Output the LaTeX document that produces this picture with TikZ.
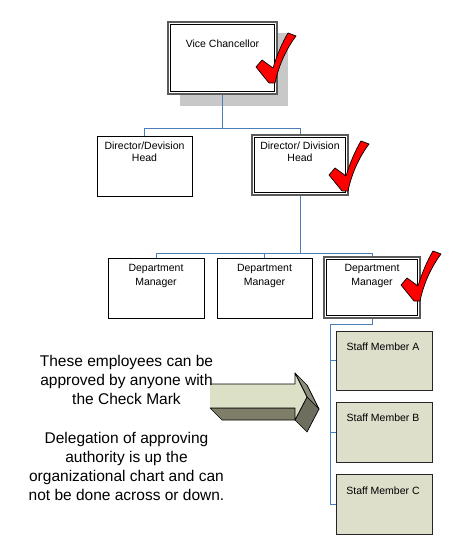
\documentclass[tikz,border=0pt]{standalone}
\usepackage{fontspec}
\setmainfont{Liberation Sans}
\usetikzlibrary{calc}
\definecolor{conncol}{HTML}{4A7EBB}
\definecolor{shadowcol}{HTML}{C8C8C8}
\definecolor{staffcol}{HTML}{DDDFCB}
\definecolor{arrfront}{HTML}{DCE0C6}
\definecolor{arrdark}{HTML}{7F7F69}
\definecolor{arrmid}{HTML}{8C8C78}
\definecolor{arrdeep}{HTML}{6E6E5E}
\definecolor{outercol}{HTML}{5A5A5A}
\tikzset{
  box/.style={draw=black, line width=0.9pt, fill=white, minimum width=96pt, minimum height=60pt, inner sep=0pt},
  dblbox/.style={draw=outercol, line width=1.8pt, fill=white, inner sep=0pt},
  staffbox/.style={draw=black!85, line width=0.9pt, fill=staffcol, minimum width=96pt, minimum height=60pt, inner sep=0pt},
  lbl/.style={font=\fontsize{10.5}{12}\selectfont, anchor=base, inner sep=0pt},
  bigtxt/.style={font=\fontsize{15.5}{19}\selectfont, anchor=base, inner sep=0pt},
  conn/.style={draw=conncol, line width=0.9pt},
  chk/.pic={
    \filldraw[fill=red, draw=black, line width=0.7pt, line join=round]
      (-1,1) -- (-14,-15) -- (-8,-22) -- (3,-14)
      .. controls (7,-27) and (12,-39) .. (18,-49) -- (26,-46)
      .. controls (17,-34) and (9,-18) .. (5,1) -- cycle;
  }
}
\begin{document}
\begin{tikzpicture}[x=1pt, y=-1pt]
\useasboundingbox (0,0) rectangle (458,545);
\fill[white] (0,0) rectangle (458,545);

% Vice Chancellor with shadow
\fill[shadowcol] (180,33) rectangle (288,106);
\node[dblbox, minimum width=109pt, minimum height=72pt] (vc) at (222.5,58) {};
\draw[black, line width=0.9pt] ($(vc.north west)+(3,3)$) rectangle ($(vc.south east)+(-3,-3)$);
\node[lbl] (vct) at (222.5,48) {Vice Chancellor};

% Directors
\node[box, minimum width=95pt] (d1) at (144.5,166) {};
\node[lbl] (d1a) at (144.5,149.5) {Director/Devision};
\node[lbl] (d1b) at (144.5,161.5) {Head};
\node[dblbox, minimum width=96pt, minimum height=60pt] (d2) at (300,165) {};
\draw[black, line width=0.9pt] ($(d2.north west)+(3,3)$) rectangle ($(d2.south east)+(-3,-3)$);
\node[lbl] (d2a) at (300,149.5) {Director/ Division};
\node[lbl] (d2b) at (300,161.5) {Head};

% Department managers
\node[box] (m1) at (156,288) {};
\node[lbl] (m1a) at (156,271.5) {Department};
\node[lbl] (m1b) at (156,285.5) {Manager};
\node[box, minimum width=95pt] (m2) at (264.5,288) {};
\node[lbl] (m2a) at (264.5,271.5) {Department};
\node[lbl] (m2b) at (264.5,285.5) {Manager};
\node[dblbox, minimum width=96pt, minimum height=61pt] (m3) at (372,287.5) {};
\draw[black, line width=0.9pt] ($(m3.north west)+(3,3)$) rectangle ($(m3.south east)+(-3,-3)$);
\node[lbl] (m3a) at (372,271.5) {Department};
\node[lbl] (m3b) at (372,285.5) {Manager};

% Staff members
\node[staffbox, minimum height=59pt] (sa) at (384,360.5) {};
\node[lbl] (sat) at (383,350) {Staff Member A};
\node[staffbox] (sb) at (384,432) {};
\node[lbl] (sbt) at (383,421.5) {Staff Member B};
\node[staffbox] (sc) at (384,504) {};
\node[lbl] (sct) at (383,494) {Staff Member C};

% Connectors
\coordinate (j1) at (222.5,128);
\coordinate (j2) at (300,253);
\coordinate (s0) at (330,324);
\draw[conn] (vc.south) -- (j1);
\draw[conn] (j1) -| (d1.north);
\draw[conn] (j1) -| (d2.north);
\draw[conn] (d2.south) -- (j2);
\draw[conn] (j2) -| (m1.north);
\draw[conn] (j2) -| (m2.north);
\draw[conn] (j2) -| (m3.north);
\draw[conn] (m3.south) |- (s0);
\draw[conn] (s0) |- (sa.west);
\draw[conn] (s0) |- (sb.west);
\draw[conn] (s0) |- (sc.west);

% Check marks
\pic at (270,82) {chk};
\pic at (343,190) {chk};
\pic at (415,300) {chk};

% 3D block arrow
\filldraw[fill=arrdark, draw=black, line width=0.7pt, line join=round]
  (210,408) -- (295,408) -- (307,420) -- (222,420) -- cycle;
\filldraw[fill=arrmid, draw=black, line width=0.7pt, line join=round]
  (295,373) -- (307,385) -- (319,409) -- (307,397) -- cycle;
\filldraw[fill=arrdeep, draw=black, line width=0.7pt, line join=round]
  (307,397) -- (319,409) -- (307,432) -- (295,420) -- cycle;
\fill[arrfront] (210,384) -- (295,384) -- (295,373) -- (307,397) -- (295,420) -- (295,408) -- (210,408) -- cycle;
\draw[black, line width=0.7pt, line join=round]
  (210,384) -- (295,384) -- (295,373) -- (307,397) -- (295,420) -- (295,408) -- (210,408);

% Explanatory text
\node[bigtxt] (t1) at (126.5,366) {These employees can be};
\node[bigtxt] (t2) at (126.5,385) {approved by anyone with};
\node[bigtxt] (t3) at (126.5,404) {the Check Mark};
\node[bigtxt] (t4) at (126.5,443) {Delegation of approving};
\node[bigtxt] (t5) at (126.5,462) {authority is up the};
\node[bigtxt] (t6) at (126.5,481) {organizational chart and can};
\node[bigtxt] (t7) at (126.5,500) {not be done across or down.};
\end{tikzpicture}
\end{document}
